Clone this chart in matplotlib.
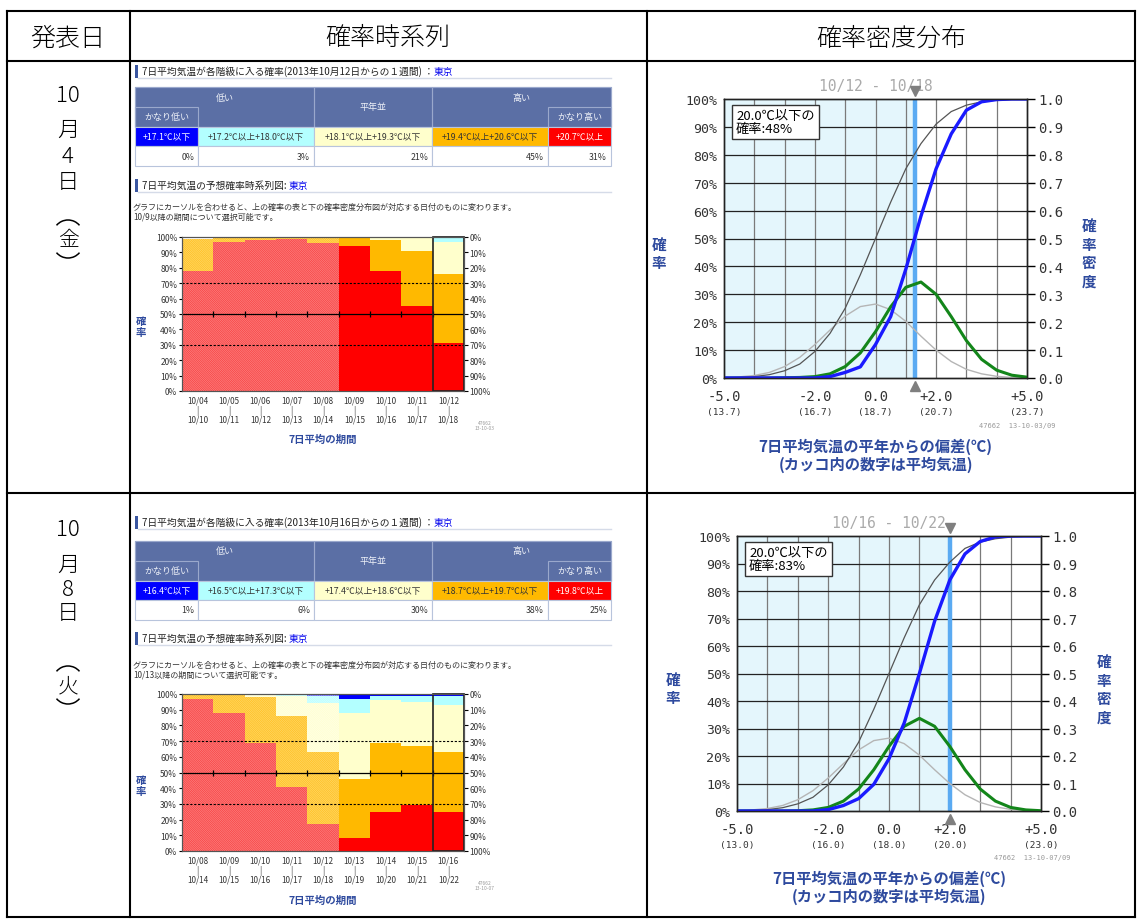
import matplotlib

matplotlib.use("Agg")
import matplotlib.pyplot as plt  # noqa: E402
import numpy as np  # noqa: E402
from matplotlib.patches import Arc, Rectangle  # noqa: E402

W, H = 1139, 920
plt.rcParams["font.family"] = ["Noto Sans CJK JP", "DejaVu Sans"]
plt.rcParams["hatch.linewidth"] = 0.5

# ---------------------------------------------------------------- data
HEADERS = ["発表日", "確率時系列", "確率密度分布"]
ISSUE_1 = ["10", "月", "4", "日"]
WEEKDAY_1 = "金"
ISSUE_2 = ["10", "月", "8", "日"]
WEEKDAY_2 = "火"

CITY = "東京"
TABLE_TITLE_1 = "7日平均気温が各階級に入る確率(2013年10月12日からの１週間) ："
TABLE_TITLE_2 = "7日平均気温が各階級に入る確率(2013年10月16日からの１週間) ："
RANGES_1 = ["+17.1℃以下", "+17.2℃以上+18.0℃以下", "+18.1℃以上+19.3℃以下",
            "+19.4℃以上+20.6℃以下", "+20.7℃以上"]
PROBS_1 = ["0%", "3%", "21%", "45%", "31%"]
RANGES_2 = ["+16.4℃以下", "+16.5℃以上+17.3℃以下", "+17.4℃以上+18.6℃以下",
            "+18.7℃以上+19.7℃以下", "+19.8℃以上"]
PROBS_2 = ["1%", "6%", "30%", "38%", "25%"]

SERIES_TITLE = "7日平均気温の予想確率時系列図: "
NOTE = "グラフにカーソルを合わせると、上の確率の表と下の確率密度分布図が対応する日付のものに変わります。"
NOTE_1 = "10/9以降の期間について選択可能です。"
NOTE_2 = "10/13以降の期間について選択可能です。"

# stacked probabilities (%), bottom to top: かなり高い, 高い, 平年並, 低い, かなり低い
START_1 = ["10/04", "10/05", "10/06", "10/07", "10/08", "10/09", "10/10", "10/11", "10/12"]
END_1 = ["10/10", "10/11", "10/12", "10/13", "10/14", "10/15", "10/16", "10/17", "10/18"]
RED_1 = [78, 97, 98, 99, 96, 94, 78, 55, 31]
ORANGE_1 = [21, 3, 2, 1, 4, 6, 20, 36, 45]
YELLOW_1 = [0, 0, 0, 0, 0, 0, 2, 9, 21]
CYAN_1 = [0, 0, 0, 0, 0, 0, 0, 0, 3]
BLUE_1 = [0, 0, 0, 0, 0, 0, 0, 0, 0]

START_2 = ["10/08", "10/09", "10/10", "10/11", "10/12", "10/13", "10/14", "10/15", "10/16"]
END_2 = ["10/14", "10/15", "10/16", "10/17", "10/18", "10/19", "10/20", "10/21", "10/22"]
RED_2 = [97, 88, 69, 41, 17, 8, 25, 29, 25]
ORANGE_2 = [3, 12, 29, 45, 46, 38, 44, 38, 38]
YELLOW_2 = [0, 0, 2, 13, 31, 42, 27, 28, 30]
CYAN_2 = [0, 0, 0, 1, 5, 9, 3, 4, 6]
BLUE_2 = [0, 0, 0, 0, 1, 3, 1, 1, 1]

# probability density panels
XS = [-5.0, -4.5, -4.0, -3.5, -3.0, -2.5, -2.0, -1.5, -1.0, -0.5, 0.0,
      0.5, 1.0, 1.5, 2.0, 2.5, 3.0, 3.5, 4.0, 4.5, 5.0]
TEMP_TICKS = [-5, -2, 0, 2, 5]
TEMP_LABELS = ["-5.0", "-2.0", "0.0", "+2.0", "+5.0"]
NORMALS_1 = ["(13.7)", "(16.7)", "(18.7)", "(20.7)", "(23.7)"]
NORMALS_2 = ["(13.0)", "(16.0)", "(18.0)", "(20.0)", "(23.0)"]
THRESH_1 = 1.3
THRESH_2 = 2.0
PERIOD_1 = "10/12 - 10/18"
PERIOD_2 = "10/16 - 10/22"
BELOW_1 = "20.0℃以下の\n確率:48%"
BELOW_2 = "20.0℃以下の\n確率:83%"

CLIM_CDF_1 = [0, 0.2, 0.5, 1.2, 2.6, 5, 9.5, 16, 25, 37, 50,
              63, 75, 84, 91, 95.5, 97.8, 99, 99.6, 99.9, 100]
CLIM_PDF_1 = [0.002, 0.004, 0.009, 0.02, 0.041, 0.074, 0.12, 0.172, 0.222, 0.256, 0.265,
              0.245, 0.203, 0.15, 0.10, 0.059, 0.031, 0.015, 0.006, 0.002, 0.001]
FC_PDF_1 = [0, 0, 0, 0, 0.001, 0.002, 0.005, 0.015, 0.041, 0.09, 0.166,
            0.255, 0.325, 0.344, 0.30, 0.22, 0.134, 0.067, 0.028, 0.01, 0.003]
FC_CDF_1 = [0, 0, 0, 0, 0, 0, 0, 0.5, 2, 4, 12,
            22, 39, 58, 75, 87.5, 96, 99, 99.8, 100, 100]

CLIM_CDF_2 = [0, 0.2, 0.5, 1.2, 2.6, 5, 9.5, 16, 25, 37, 50,
              63, 75, 84, 90.5, 95.5, 97.8, 99, 99.6, 99.9, 100]
CLIM_PDF_2 = [0.002, 0.004, 0.009, 0.02, 0.041, 0.074, 0.12, 0.172, 0.222, 0.256, 0.265,
              0.245, 0.203, 0.15, 0.10, 0.059, 0.031, 0.015, 0.006, 0.002, 0.001]
FC_PDF_2 = [0, 0, 0, 0, 0.001, 0.004, 0.013, 0.036, 0.08, 0.15, 0.235,
            0.308, 0.337, 0.308, 0.235, 0.15, 0.08, 0.036, 0.013, 0.004, 0.001]
FC_CDF_2 = [0, 0, 0, 0, 0, 0, 0.5, 2, 4.5, 9.7, 19,
            32, 50, 69, 84, 93.5, 98, 99.7, 100, 100, 100]

# ---------------------------------------------------------------- styles
CAT_COLORS = ["#ff0000", "#ffb900", "#ffffcc", "#b3ffff", "#0000ff"]
PAST_FACE = ["#f43434", "#ffba12", "#ffffcc", "#b3ffff", "#5050ff"]
PAST_HATCH = ["#ff8a8a", "#ffdb70", "#ffffe8", "#dcffff", "#b0b0ff"]
TABLE_COLORS = ["#0000ff", "#b3ffff", "#ffffcc", "#ffb900", "#ff0000"]
TABLE_TEXT = ["white", "#333333", "#333333", "#333333", "white"]
HEAD_BG = "#5b6fa5"
NAVY = "#2e4a9e"
MONO = "DejaVu Sans Mono"

fig = plt.figure(figsize=(W / 100, H / 100), dpi=100)
base = fig.add_axes([0, 0, 1, 1])
base.set_xlim(0, W)
base.set_ylim(H, 0)
base.axis("off")


def px_axes(x0, y0, x1, y1):
    return fig.add_axes([x0 / W, 1 - y1 / H, (x1 - x0) / W, (y1 - y0) / H])


# outer table
for xv in (7, 130, 647, 1135):
    base.plot([xv, xv], [12, 918], color="k", lw=1.5, solid_capstyle="projecting")
for yv in (12, 62, 494, 918):
    base.plot([7, 1135], [yv, yv], color="k", lw=1.5, solid_capstyle="projecting")
for txt, xc in zip(HEADERS, (68, 388, 891)):
    base.text(xc, 38, txt, ha="center", va="center", fontsize=18, fontweight="light")


def draw_issue(chars, weekday, ys, wy):
    for c, yv in zip(chars, ys):
        base.text(68, yv, c, ha="center", va="center", fontsize=16, fontweight="light")
    base.text(68, wy, weekday, ha="center", va="center", fontsize=15, fontweight="light")
    # vertical-writing parentheses: shallow circular arcs above and below
    base.add_patch(Arc((68, wy - 4), 30, 30, theta1=220, theta2=320, color="k", lw=1.1))
    base.add_patch(Arc((68, wy + 4), 30, 30, theta1=40, theta2=140, color="k", lw=1.1))


draw_issue(ISSUE_1, WEEKDAY_1, (96, 131, 157, 183), 240)
draw_issue(ISSUE_2, WEEKDAY_2, (530, 566, 590, 614), 686)


def section_title(y, text):
    base.add_patch(Rectangle((135, y - 6.5), 2.5, 13, color="#3a56a0", lw=0))
    t = base.text(142, y, text, ha="left", va="center", fontsize=7, color="#222222")
    base.annotate(CITY, xy=(1, 0.5), xycoords=t, ha="left", va="center",
                  fontsize=7, color="#0000ee")
    base.plot([138, 611], [y + 7, y + 7], color="#d5dbe8", lw=1)


def draw_table(y0, ranges, probs):
    cols = [135, 198, 314, 432, 548, 611]
    rows = [y0, y0 + 20, y0 + 39.5, y0 + 59, y0 + 79]
    base.add_patch(Rectangle((cols[0], rows[0]), cols[-1] - cols[0], rows[2] - rows[0],
                             fc=HEAD_BG, ec="#9aa8cc", lw=0.8))
    for xa, xb in ((cols[0], cols[2]), (cols[2], cols[3]), (cols[3], cols[5])):
        base.add_patch(Rectangle((xa, rows[0]), xb - xa, rows[2] - rows[0],
                                 fill=False, ec="#9aa8cc", lw=0.8))
    for xa, xb in ((cols[0], cols[1]), (cols[4], cols[5])):
        base.add_patch(Rectangle((xa, rows[1]), xb - xa, rows[2] - rows[1],
                                 fill=False, ec="#9aa8cc", lw=0.8))
    hd = dict(ha="center", va="center", fontsize=6.5, color="#eef1f8")
    base.text((cols[0] + cols[2]) / 2, (rows[0] + rows[1]) / 2, "低い", **hd)
    base.text((cols[2] + cols[3]) / 2, (rows[0] + rows[2]) / 2, "平年並", **hd)
    base.text((cols[3] + cols[5]) / 2, (rows[0] + rows[1]) / 2, "高い", **hd)
    base.text((cols[0] + cols[1]) / 2, (rows[1] + rows[2]) / 2, "かなり低い", **hd)
    base.text((cols[4] + cols[5]) / 2, (rows[1] + rows[2]) / 2, "かなり高い", **hd)
    for i in range(5):
        base.add_patch(Rectangle((cols[i], rows[2]), cols[i + 1] - cols[i], rows[3] - rows[2],
                                 fc=TABLE_COLORS[i], ec="#b8c4dc", lw=0.8))
        base.text((cols[i] + cols[i + 1]) / 2, (rows[2] + rows[3]) / 2, ranges[i],
                  ha="center", va="center", fontsize=6.3, color=TABLE_TEXT[i])
        base.add_patch(Rectangle((cols[i], rows[3]), cols[i + 1] - cols[i], rows[4] - rows[3],
                                 fc="white", ec="#b8c4dc", lw=0.8))
        base.text(cols[i + 1] - 4, (rows[3] + rows[4]) / 2, probs[i],
                  ha="right", va="center", fontsize=6.3, color="#333333")


section_title(72, TABLE_TITLE_1)
draw_table(88, RANGES_1, PROBS_1)
section_title(186, SERIES_TITLE)
base.text(133, 207, NOTE, fontsize=5.8, va="center", color="#333333")
base.text(133, 217, NOTE_1, fontsize=5.8, va="center", color="#333333")

section_title(523, TABLE_TITLE_2)
draw_table(542, RANGES_2, PROBS_2)
section_title(639, SERIES_TITLE)
base.text(133, 665, NOTE, fontsize=5.8, va="center", color="#333333")
base.text(133, 675, NOTE_2, fontsize=5.8, va="center", color="#333333")


def draw_bars(box, stacks, starts, ends, n_past, foot, lab_y, xlab_y, foot_y):
    ax = px_axes(*box)
    x = np.arange(len(starts))
    bottom = np.zeros(len(x))
    for vals, col, face, hat in zip(stacks, CAT_COLORS, PAST_FACE, PAST_HATCH):
        v = np.asarray(vals, float)
        ax.bar(x[n_past:], v[n_past:], bottom=bottom[n_past:], width=1.0,
               color=col, linewidth=0)
        ax.bar(x[:n_past], v[:n_past], bottom=bottom[:n_past], width=1.0,
               color=face, edgecolor=hat, hatch="\\" * 18, linewidth=0)
        bottom += v
    ax.set_xlim(-0.5, len(x) - 0.5)
    ax.set_ylim(0, 100)
    for yv in (30, 70):
        ax.axhline(yv, color="k", lw=0.8, ls=(0, (2, 1.5)))
    ax.axhline(50, color="k", lw=0.9)
    ax.plot(x[:-1] + 0.5, [50] * (len(x) - 1), ls="none", marker="|",
            color="k", ms=4, mew=0.9)
    ax.add_patch(Rectangle((len(x) - 1.5, 0), 1, 100, fill=False, ec="#222222",
                           lw=1.2, zorder=5, clip_on=False))
    pct = [f"{v}%" for v in range(0, 101, 10)]
    ax.set_yticks(range(0, 101, 10), pct)
    ax.tick_params(axis="y", length=2, pad=1.5, labelsize=6, labelcolor="#333333")
    ax.set_xticks(x, [f"{s}\n|\n{e}" for s, e in zip(starts, ends)])
    ax.tick_params(axis="x", length=0, pad=3, labelsize=5.8, labelcolor="#333333")
    for lbl in ax.get_xticklabels():
        lbl.set_linespacing(1.05)
    ax2 = ax.twinx()
    ax2.set_ylim(100, 0)
    ax2.set_yticks(range(0, 101, 10), pct)
    ax2.tick_params(axis="y", length=3, pad=1, labelsize=6, labelcolor="#333333")
    for a in (ax, ax2):
        for s in a.spines.values():
            s.set_color("#555555")
            s.set_linewidth(0.8)
    base.text(141, lab_y, "確", ha="center", va="center", fontsize=7.5,
              color=NAVY, fontweight="bold")
    base.text(141, lab_y + 11, "率", ha="center", va="center", fontsize=7.5,
              color=NAVY, fontweight="bold")
    base.text((box[0] + box[2]) / 2, xlab_y, "7日平均の期間", ha="center", va="center",
              fontsize=7.5, color=NAVY, fontweight="bold")
    base.text(485, foot_y, foot, ha="center", va="center", fontsize=3.5,
              color="#999999", linespacing=1.0)


draw_bars((182, 238, 464, 392), [RED_1, ORANGE_1, YELLOW_1, CYAN_1, BLUE_1],
          START_1, END_1, 5, "47662\n13-10-03", 322, 440, 426)
draw_bars((182, 695, 464, 852), [RED_2, ORANGE_2, YELLOW_2, CYAN_2, BLUE_2],
          START_2, END_2, 5, "47662\n13-10-07", 781, 901, 886)


def draw_dist(box, thr, period, below, normals, clim_cdf, clim_pdf, fc_pdf, fc_cdf,
              foot, foot_xy, left_xy, right_xy, xlab_y):
    ax = px_axes(*box)
    axd = ax.twinx()
    ax.set_zorder(3)
    axd.set_zorder(2)
    ax.patch.set_visible(False)
    axd.set_xlim(-5, 5)
    axd.set_ylim(0, 1)
    axd.axvspan(-5, thr, color="#e4f6fc", lw=0, zorder=0)
    for xv in range(-4, 5):
        axd.axvline(xv, color="#7a7a7a", lw=0.9, zorder=1)
    for yv in np.arange(0.1, 0.95, 0.1):
        axd.axhline(yv, color="#222222", lw=0.9, zorder=1)
    axd.axvline(thr, color="#5aaaf2", lw=3.2, zorder=2)
    axd.plot(XS, clim_pdf, color="#b5b5b5", lw=1.0, zorder=3)
    axd.plot(XS, fc_pdf, color="#13861a", lw=2.2, zorder=4)
    ax.plot(XS, clim_cdf, color="#555555", lw=0.9)
    ax.plot(XS, fc_cdf, color="#1a1aff", lw=2.4)
    ax.set_xlim(-5, 5)
    ax.set_ylim(0, 100)
    ax.set_xticks([])
    axd.set_xticks([])
    ax.set_yticks(range(0, 101, 10), [f"{v}%" for v in range(0, 101, 10)])
    ax.tick_params(axis="y", length=0, pad=5, labelsize=9.5, labelcolor="#333333")
    for lbl in ax.get_yticklabels():
        lbl.set_family(MONO)
    dens = np.round(np.arange(0, 1.01, 0.1), 1)
    axd.set_yticks(dens, [f"{v:.1f}" for v in dens])
    axd.tick_params(axis="y", length=6, width=1, pad=2, labelsize=10,
                    labelcolor="#333333")
    for lbl in axd.get_yticklabels():
        lbl.set_family(MONO)
    for a in (ax, axd):
        for s in a.spines.values():
            s.set_color("#222222")
            s.set_linewidth(1.0)
    for xv, lab, nrm in zip(TEMP_TICKS, TEMP_LABELS, normals):
        ax.annotate(lab, xy=(xv, 0), xycoords=("data", "axes fraction"),
                    xytext=(0, -18), textcoords="offset pixels", ha="center",
                    va="center", fontsize=10, family=MONO, color="#333333")
        ax.annotate(nrm, xy=(xv, 0), xycoords=("data", "axes fraction"),
                    xytext=(0, -34), textcoords="offset pixels", ha="center",
                    va="center", fontsize=6.8, family=MONO, color="#333333")
    ax.annotate(period, xy=(0.5, 1), xycoords="axes fraction", xytext=(0, 13),
                textcoords="offset pixels", ha="center", va="center",
                fontsize=10.5, family=MONO, color="#aaaaaa")
    ax.plot([thr], [103], marker="v", ms=7, color="#7f7f7f", clip_on=False, zorder=6)
    ax.plot([thr], [-3], marker="^", ms=7, color="#7f7f7f", clip_on=False, zorder=6)
    ax.annotate(below, xy=(0, 1), xycoords="axes fraction", xytext=(12, -10),
                textcoords="offset pixels", ha="left", va="top", fontsize=9.5,
                linespacing=1.0, zorder=7,
                bbox=dict(boxstyle="square,pad=0.3", fc="white", ec="#333333", lw=1))
    base.text(left_xy[0], left_xy[1], "確\n率", ha="center", va="center",
              fontsize=10.5, color=NAVY, fontweight="bold", linespacing=1.15)
    base.text(right_xy[0], right_xy[1], "確\n率\n密\n度", ha="center", va="center",
              fontsize=10.5, color=NAVY, fontweight="bold", linespacing=1.2)
    xc = (box[0] + box[2]) / 2
    base.text(xc, xlab_y, "7日平均気温の平年からの偏差(℃)", ha="center", va="center",
              fontsize=11, color=NAVY, fontweight="bold")
    base.text(xc, xlab_y + 18, "(カッコ内の数字は平均気温)", ha="center", va="center",
              fontsize=11, color=NAVY, fontweight="bold")
    base.text(foot_xy[0], foot_xy[1], foot, ha="center", va="center", fontsize=5,
              family=MONO, color="#999999")


draw_dist((724, 100, 1027, 379), THRESH_1, PERIOD_1, BELOW_1, NORMALS_1,
          CLIM_CDF_1, CLIM_PDF_1, FC_PDF_1, FC_CDF_1, "47662  13-10-03/09",
          (1017, 426), (659, 254), (1089, 254), 447)
draw_dist((737, 537, 1041, 812), THRESH_2, PERIOD_2, BELOW_2, NORMALS_2,
          CLIM_CDF_2, CLIM_PDF_2, FC_PDF_2, FC_CDF_2, "47662  13-10-07/09",
          (1032, 858), (673, 689), (1104, 690), 879)

fig.savefig("out.png", dpi=100, facecolor="white")
